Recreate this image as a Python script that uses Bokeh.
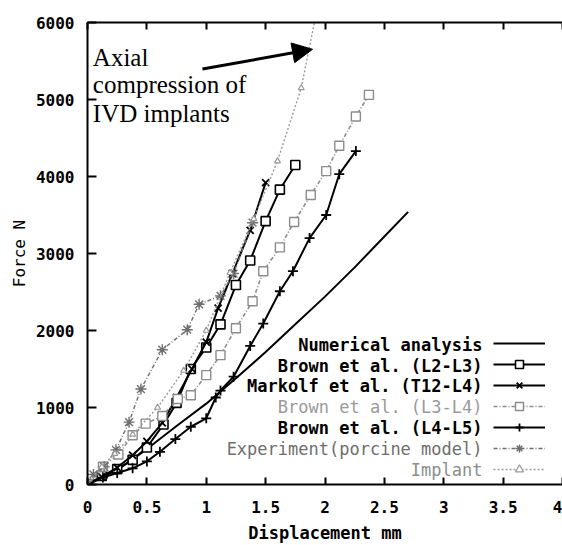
from bokeh.plotting import figure
from bokeh.models import (LinearAxis, FixedTicker, ColumnDataSource, Legend, LegendItem,
                          Label, Arrow, NormalHead, Range1d, CustomJSTickFormatter)
from bokeh.core.properties import value
from bokeh.embed import file_html
from bokeh.resources import INLINE

# ---------------- data ----------------
num_x = [0, 0.25, 0.5, 0.75, 1.0, 1.25, 1.5, 1.75, 2.0, 2.25, 2.5, 2.7]
num_y = [0, 190, 460, 760, 1050, 1380, 1720, 2080, 2440, 2820, 3220, 3540]

l23_x = [0, 0.12, 0.25, 0.38, 0.5, 0.64, 0.75, 0.87, 1.0, 1.12, 1.25, 1.37, 1.5, 1.62, 1.75]
l23_y = [0, 110, 200, 320, 480, 780, 1060, 1500, 1780, 2080, 2590, 2910, 3420, 3830, 4150]

mk_x = [0, 0.12, 0.25, 0.38, 0.5, 0.63, 0.75, 0.88, 1.0, 1.1, 1.22, 1.37, 1.5]
mk_y = [0, 100, 220, 380, 560, 800, 1130, 1500, 1850, 2290, 2740, 3300, 3920]

l34_x = [0, 0.13, 0.26, 0.38, 0.49, 0.63, 0.76, 0.87, 1.0, 1.12, 1.25, 1.39, 1.48, 1.62, 1.74, 1.88, 2.01, 2.12, 2.26, 2.37]
l34_y = [0, 230, 390, 640, 790, 890, 1110, 1160, 1420, 1680, 2030, 2380, 2770, 3080, 3410, 3760, 4070, 4400, 4780, 5060]

l45_x = [0, 0.13, 0.25, 0.38, 0.5, 0.61, 0.74, 0.87, 1.0, 1.08, 1.12, 1.23, 1.37, 1.48, 1.62, 1.73, 1.87, 2.01, 2.12, 2.26]
l45_y = [0, 90, 150, 210, 300, 425, 590, 750, 860, 1130, 1220, 1400, 1800, 2090, 2510, 2770, 3200, 3500, 4030, 4330]

exp_x = [0, 0.05, 0.14, 0.24, 0.35, 0.45, 0.63, 0.84, 0.94, 1.12, 1.23, 1.39]
exp_y = [0, 130, 230, 450, 810, 1240, 1750, 2010, 2340, 2450, 2740, 3400]

imp_x = [0, 0.12, 0.23, 0.38, 0.59, 0.81, 1.0, 1.2, 1.4, 1.6, 1.8, 1.95]
imp_y = [0, 230, 400, 650, 1000, 1480, 2000, 2750, 3450, 4200, 5150, 6300]

legend_labels = ["Numerical analysis", "Brown et al. (L2-L3)", "Markolf et al. (T12-L4)",
                 "Brown et al. (L3-L4)", "Brown et al. (L4-L5)",
                 "Experiment(porcine model)", "Implant"]
x_ticks = [0, 0.5, 1, 1.5, 2, 2.5, 3, 3.5, 4]
y_ticks = [0, 1000, 2000, 3000, 4000, 5000, 6000]
note_lines = ["Axial", "compression of", "IVD implants"]

# ---------------- figure ----------------
MONO = "DejaVu Sans Mono"
W, H = 562, 545
BL, BT, BB = 87, 22, 57
FW, FH = W - BL, H - BT - BB
XEND = 4.0

p = figure(width=W, height=H, output_backend="svg", toolbar_location=None,
           x_range=Range1d(0, XEND), y_range=Range1d(0, 6000),
           min_border_left=BL, min_border_right=0, min_border_top=BT, min_border_bottom=BB,
           x_axis_location=None, y_axis_location=None)
p.outline_line_color = None
p.grid.visible = False
p.background_fill_color = "white"
p.border_fill_color = "white"

xa = LinearAxis(ticker=FixedTicker(ticks=x_ticks), axis_label="Displacement mm")
ya = LinearAxis(ticker=FixedTicker(ticks=y_ticks), axis_label="Force N")
ta = LinearAxis(ticker=FixedTicker(ticks=x_ticks),
                formatter=CustomJSTickFormatter(code="return ''"))
for ax in (xa, ya, ta):
    ax.axis_line_width = 2
    ax.axis_line_color = "black"
    ax.major_tick_line_color = "black"
    ax.major_tick_line_width = 2
    ax.major_tick_out = 0
    ax.minor_tick_line_color = None
    ax.major_label_text_font = MONO
    ax.major_label_text_font_style = "bold"
    ax.major_label_text_font_size = "16px"
    ax.major_label_text_color = "black"
    ax.axis_label_text_font = MONO
    ax.axis_label_text_font_size = "16px"
    ax.axis_label_text_color = "black"
xa.major_tick_in = 7
xa.major_label_standoff = 16
xa.axis_label_standoff = 7
xa.axis_label_text_font_style = "bold"
xa.axis_label_text_font_size = "17px"
ya.major_tick_in = 9
ya.major_label_standoff = 13
ya.axis_label_standoff = 4
ya.axis_label_text_font_style = "normal"
ta.major_tick_in = 7
ta.major_label_standoff = 0
p.add_layout(xa, "below")
p.add_layout(ya, "left")
p.add_layout(ta, "above")

GRAY1, GRAY2, GRAY3 = "#8c8c8c", "#6e6e6e", "#9a9a9a"

# ---------------- series ----------------
r_num = p.line(num_x, num_y, line_color="black", line_width=2)

r23l = p.line(l23_x, l23_y, line_color="black", line_width=2)
r23m = p.scatter(l23_x, l23_y, marker="square", size=9, line_color="black",
                 fill_color="white", line_width=1.6)

rmkl = p.line(mk_x, mk_y, line_color="black", line_width=2)
rmkm = p.scatter(mk_x, mk_y, marker="x", size=10, line_color="black", line_width=1.8)

r34l = p.line(l34_x, l34_y, line_color=GRAY1, line_width=1.6, line_dash="4 2 1 2")
r34m = p.scatter(l34_x, l34_y, marker="square", size=9, line_color=GRAY1,
                 fill_color="white", line_width=1.4)

r45l = p.line(l45_x, l45_y, line_color="black", line_width=2)
r45m = p.scatter(l45_x, l45_y, marker="cross", size=10, line_color="black", line_width=1.8)

rexl = p.line(exp_x, exp_y, line_color=GRAY2, line_width=1.4, line_dash="4 2 1 2")
rexm = p.scatter(exp_x, exp_y, marker="asterisk", size=11, line_color=GRAY2, line_width=1.4)

riml = p.line(imp_x, imp_y, line_color=GRAY3, line_width=1.4, line_dash="2 2")
rimm = p.scatter(imp_x, imp_y, marker="triangle", size=6, line_color=GRAY3,
                 fill_color="white", line_width=1.2)

# ---------------- legend: labels on the left, samples on the right ----------------
ROW0, ROWH = 325, 21       # px from frame top of the first row centre, row pitch
lab_x_px = 395             # right edge of the labels, px from frame left
lab_src = ColumnDataSource(dict(
    x=[lab_x_px / FW * XEND] * len(legend_labels),
    y=[(FH - (ROW0 + ROWH * i)) / FH * 6000 for i in range(len(legend_labels))],
    text=legend_labels,
    color=["black", "black", "black", GRAY3, "black", GRAY2, GRAY1],
    style=["bold", "bold", "bold", "normal", "bold", "normal", "normal"],
))
p.text(x="x", y="y", text="text", source=lab_src, text_align="right",
       text_baseline="middle", text_font=value(MONO), text_font_size="17px",
       text_color="color", text_font_style="style")

groups = [[r_num], [r23l, r23m], [rmkl, rmkm], [r34l, r34m], [r45l, r45m],
          [rexl, rexm], [riml, rimm]]
items = [LegendItem(label=value(""), renderers=g) for g in groups]
leg_bottom = FH - (ROW0 - 10 + ROWH * len(items) - 1)
legend = Legend(items=items, location=(406, leg_bottom), orientation="vertical",
                glyph_width=52, glyph_height=20, spacing=1, padding=0, margin=0,
                label_standoff=0, label_width=0, label_height=20,
                label_text_font_size="16px", border_line_alpha=0,
                background_fill_alpha=0)
p.add_layout(legend)

# ---------------- annotation ----------------
base_px = [35, 63, 92]
for txt, b in zip(note_lines, base_px):
    p.add_layout(Label(x=0.045, y=(FH - b) / FH * 6000, text=txt,
                       text_font="Liberation Serif", text_font_size="25px",
                       text_color="black", text_baseline="alphabetic"))
p.add_layout(Arrow(end=NormalHead(size=20, fill_color="black", line_color="black"),
                   x_start=0.968, y_start=5395, x_end=1.895, y_end=5652,
                   line_width=3, line_color="black"))

open("out.html", "w").write(file_html(p, INLINE))
